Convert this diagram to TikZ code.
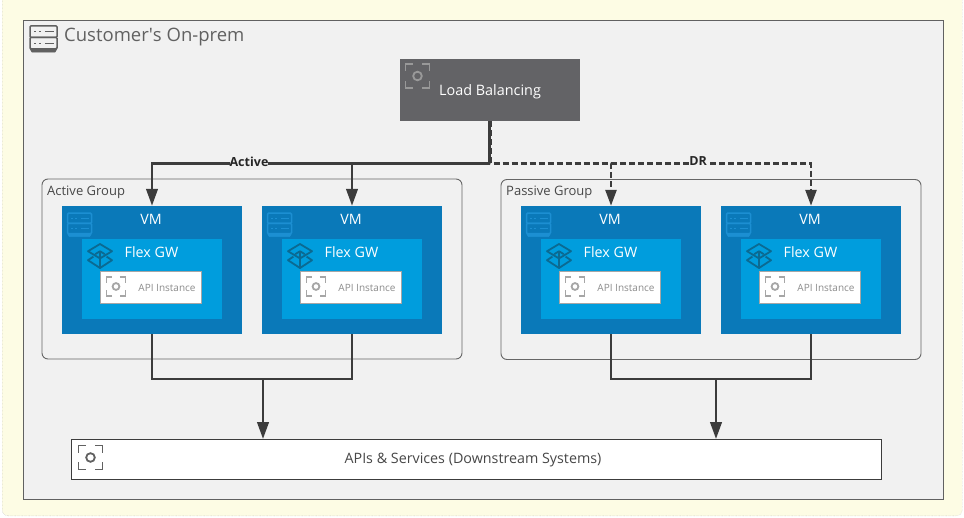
\documentclass[tikz,border=0pt]{standalone}
\usepackage{fontspec}
\setmainfont{Open Sans}
\usetikzlibrary{positioning,arrows.meta,calc}
\definecolor{pagecol}{HTML}{FDFCE4}
\definecolor{premcol}{HTML}{F1F1F1}
\definecolor{lbcol}{HTML}{636366}
\definecolor{vmcol}{HTML}{0A79B9}
\definecolor{vmicon}{HTML}{1C8FD2}
\definecolor{gwcol}{HTML}{009DDD}
\definecolor{gwicon}{HTML}{0B6A92}
\definecolor{linecol}{HTML}{3C3C3C}
\tikzset{
  px/.style={x=1pt, y=-1pt},
  premtitle/.style={font=\fontsize{18.5}{20}\selectfont, text=black!62, anchor=west, inner sep=0pt},
  groupbox/.style={draw=black!60, rounded corners=6pt, minimum width=420pt, minimum height=180pt, line width=0.9pt, inner sep=0pt},
  grouptitle/.style={font=\fontsize{13}{15}\selectfont, text=black!72, anchor=west, inner sep=0pt},
  vmbox/.style={fill=vmcol, minimum width=180pt, minimum height=128pt, inner sep=0pt},
  gwbox/.style={fill=gwcol, minimum width=140pt, minimum height=80pt, inner sep=0pt},
  apibox/.style={draw=black!35, fill=white, line width=0.9pt, minimum width=101pt, minimum height=32pt, inner sep=0pt},
  vmlabel/.style={font=\fontsize{14.3}{16}\selectfont, text=white, inner sep=0pt},
  apilabel/.style={font=\fontsize{10}{12}\selectfont, text=black!45, inner sep=0pt},
  figarrow/.style={-{Triangle[length=17pt, width=11.5pt]}, line width=2.6pt, draw=linecol},
  figline/.style={line width=2pt, draw=linecol},
  dasharrow/.style={-{Triangle[length=16pt, width=11pt]}, line width=2.6pt, draw=linecol, dash pattern=on 6pt off 3pt},
  buslabel/.style={font=\fontsize{12.5}{14}\selectfont\bfseries, text=black!85, fill=premcol, inner sep=0pt},
  lens/.pic={
    \draw[line width=1.8pt, pic actions] (-1,-0.4) |- (-0.4,-1) (0.4,-1) -| (1,-0.4)
      (1,0.4) |- (0.4,1) (-0.4,1) -| (-1,0.4);
    \draw[line width=1.8pt, pic actions] (0,0) circle (0.36);
  },
  server/.pic={
    \draw[line width=1.5pt, pic actions, fill=none, rounded corners=1pt] (-1,-0.9) rectangle (1,-0.05);
    \draw[line width=1.5pt, pic actions, fill=none, rounded corners=1pt] (-1,-0.05) rectangle (1,0.8);
    \draw[line width=0.5pt, pic actions] (-1,0.8) -- (1,0.8) -- (0.85,1.05) -- (-0.85,1.05) -- cycle;
    \draw[line width=1.1pt, pic actions, fill=none] (-0.7,-0.47) -- (-0.55,-0.47) (-0.35,-0.47) -- (-0.2,-0.47) (0.1,-0.47) -- (0.75,-0.47)
      (-0.7,0.38) -- (-0.55,0.38) (-0.35,0.38) -- (-0.2,0.38) (0.1,0.38) -- (0.75,0.38);
  },
  cube/.pic={
    \draw[line width=1.8pt, pic actions, line join=round] (0,-1) -- (1,-0.4) -- (0,0.2) -- (-1,-0.4) -- cycle;
    \draw[line width=1.8pt, pic actions, line join=round] (-0.55,0.05) -- (-1,0.35) -- (0,1) -- (1,0.35) -- (0.55,0.05);
    \draw[line width=1.8pt, pic actions] (0,-0.4) -- (0,0.2) (0,-0.4) -- (-0.4,-0.15) (0,-0.4) -- (0.4,-0.15) (0,0.2) -- (0,1);
  },
}

\begin{document}
\begin{tikzpicture}[px]
  \useasboundingbox (0,0) rectangle (964,517);
  \node[draw=black!30, densely dotted, fill=pagecol, rounded corners=6pt, minimum width=960pt, minimum height=536pt, inner sep=0pt, anchor=south west] (page) at (2,516) {};
  \node[draw=black!62, fill=premcol, line width=0.9pt, minimum width=920.5pt, minimum height=479.5pt, inner sep=0pt, anchor=north west] (prem) at (22.5,19.5) {};
  \pic[draw=black!62, fill=black!62, scale=13.5] at (43.5,38) {server};
  \node[premtitle] (premname) at (64,37.5) {Customer\textquotesingle s On-prem};

  \node[fill=lbcol, minimum width=180pt, minimum height=62pt, inner sep=0pt] (lb) at (490,90) {};
  \node[inner sep=0pt, text=white, font=\fontsize{14.4}{16}\selectfont] (lbname) at (490,91.5) {Load Balancing};
  \pic[draw=black!40, scale=12] at (417.5,76) {lens};

  \node[groupbox] (activegroup) at (252,269) {};
  \node[grouptitle] (activename) at (47,192) {Active Group};
  \node[groupbox] (passivegroup) at (711,269.5) {};
  \node[grouptitle] (passivename) at (506,192.5) {Passive Group};

  % first group
  \node[vmbox] (vma) at (152,270) {};
  \node[vmlabel] (vmaname) at (151,219.5) {VM};
  \pic[draw=vmicon, fill=vmicon, scale=12] at (79.5,224) {server};
  \node[gwbox] (gwa) at (152,279) {};
  \node[vmlabel] (gwaname) at (151.5,252.5) {Flex GW};
  \pic[draw=gwicon, scale=12] at (100,256) {cube};
  \node[apibox] (apia) at (150.5,287) {};
  \node[apilabel] (apianame) at (167,287.5) {API Instance};
  \pic[draw=black!35, scale=9.5] at (116,286.5) {lens};

  \node[vmbox] (vmb) at (352,270) {};
  \node[vmlabel] (vmbname) at (351,219.5) {VM};
  \pic[draw=vmicon, fill=vmicon, scale=12] at (279.5,224) {server};
  \node[gwbox] (gwb) at (352,279) {};
  \node[vmlabel] (gwbname) at (351.5,252.5) {Flex GW};
  \pic[draw=gwicon, scale=12] at (300,256) {cube};
  \node[apibox] (apib) at (350.5,287) {};
  \node[apilabel] (apibname) at (367,287.5) {API Instance};
  \pic[draw=black!35, scale=9.5] at (316,286.5) {lens};

  % second group
  \node[vmbox] (vmc) at (611,270) {};
  \node[vmlabel] (vmcname) at (610,219.5) {VM};
  \pic[draw=vmicon, fill=vmicon, scale=12] at (538.5,224) {server};
  \node[gwbox] (gwc) at (611,279) {};
  \node[vmlabel] (gwcname) at (610.5,252.5) {Flex GW};
  \pic[draw=gwicon, scale=12] at (559,256) {cube};
  \node[apibox] (apic) at (609.5,287) {};
  \node[apilabel] (apicname) at (626,287.5) {API Instance};
  \pic[draw=black!35, scale=9.5] at (575,286.5) {lens};

  \node[vmbox] (vmd) at (811,270) {};
  \node[vmlabel] (vmdname) at (810,219.5) {VM};
  \pic[draw=vmicon, fill=vmicon, scale=12] at (738.5,224) {server};
  \node[gwbox] (gwd) at (811,279) {};
  \node[vmlabel] (gwdname) at (810.5,252.5) {Flex GW};
  \pic[draw=gwicon, scale=12] at (759,256) {cube};
  \node[apibox] (apid) at (809.5,287) {};
  \node[apilabel] (apidname) at (826,287.5) {API Instance};
  \pic[draw=black!35, scale=9.5] at (775,286.5) {lens};

  \node[draw=linecol, fill=white, line width=1pt, minimum width=810pt, minimum height=40pt, inner sep=0pt] (apis) at (476,459.5) {};
  \node[inner sep=0pt, font=\fontsize{14.3}{16}\selectfont, text=black!72] (apisname) at (473,460) {APIs \& Services (Downstream Systems)};
  \pic[draw=black!62, scale=12] at (90.5,457.5) {lens};

  \coordinate (activebus) at (490,163.5);
  \coordinate (passivebus) at (491,163.5);
  \coordinate (passivetee) at (vmc.north |- passivebus);
  \coordinate (activejoin) at (263,379);
  \coordinate (passivejoin) at (716,379);

  \draw[dasharrow] ([xshift=1pt]lb.south) |- (passivetee) -- (vmc.north);
  \draw[dasharrow] (passivetee) -| (vmd.north);
  \draw[figarrow] ([xshift=-0.5pt]lb.south) |- (activebus) -| (vma.north);
  \draw[figarrow] (activebus) -| (vmb.north);
  \node[buslabel] (activelabel) at (249,161.5) {Active};
  \node[buslabel] (drlabel) at (698,161.5) {DR};

  \draw[figline] (vma.south) |- (activejoin) -| (vmb.south);
  \draw[figarrow] (activejoin) -- (activejoin |- apis.north);
  \draw[figline] (vmc.south) |- (passivejoin) -| (vmd.south);
  \draw[figarrow] (passivejoin) -- (passivejoin |- apis.north);
\end{tikzpicture}
\end{document}
